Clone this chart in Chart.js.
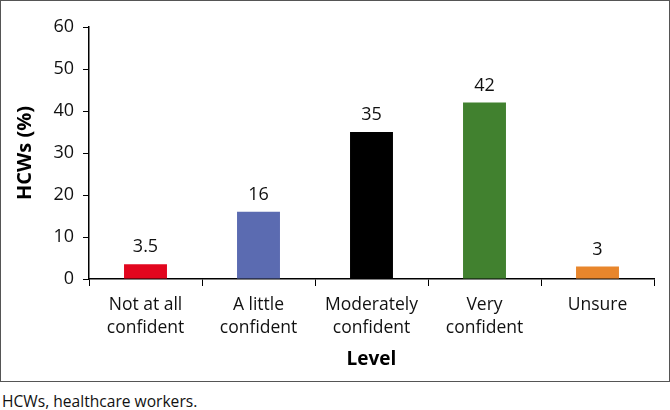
<!DOCTYPE html>
<html>
<head>
<meta charset="utf-8">
<script src="https://cdn.jsdelivr.net/npm/chart.js@4"></script>
<style>
  body { margin: 0; background: #fff; width: 670px; height: 410px; position: relative; overflow: hidden; }
  #frame { position: absolute; left: 0; top: 0; width: 668px; height: 380px; border: 1px solid #555; }
  #note { position: absolute; left: 2px; top: 390px; font-family: "Open Sans", sans-serif; font-size: 15.6px; color: #111; }
</style>
</head>
<body>
<div id="frame"><canvas id="c" width="668" height="380"></canvas></div>
<div id="note">HCWs, healthcare workers.</div>
<script>
// data
const levels = [["Not at all", "confident"], ["A little", "confident"], ["Moderately", "confident"], ["Very", "confident"], "Unsure"];
const percents = [3.5, 16, 35, 42, 3];
const barColors = ["#E2061E", "#5B6BB1", "#000000", "#41812F", "#E8862C"];

const FONT = "'Open Sans', sans-serif";

// value above each bar
const valueLabels = {
    id: 'valueLabels',
    afterDatasetsDraw(chart) {
        const ctx = chart.ctx;
        const meta = chart.getDatasetMeta(0);
        ctx.save();
        ctx.font = "18px " + FONT;
        ctx.fillStyle = "#111";
        ctx.textAlign = "center";
        ctx.textBaseline = "bottom";
        meta.data.forEach(function(bar, i) {
            ctx.fillText(String(percents[i]), bar.x, bar.y - 8);
        });
        ctx.restore();
    }
};

new Chart(document.getElementById('c'), {
    type: 'bar',
    data: {
        labels: levels,
        datasets: [{
            data: percents,
            backgroundColor: barColors,
            barPercentage: 0.38,
            categoryPercentage: 1
        }]
    },
    options: {
        responsive: false,
        animation: false,
        layout: { padding: { left: 12, top: 26, right: 15, bottom: 10 } },
        plugins: { legend: { display: false }, tooltip: { enabled: false } },
        scales: {
            x: {
                grid: { drawOnChartArea: false, drawTicks: true, tickLength: 7, color: '#000', offset: true },
                border: { display: true, color: '#000', width: 1.5 },
                ticks: { color: '#111', font: { family: FONT, size: 17.5, lineHeight: 1.35 }, padding: 7, maxRotation: 0, autoSkip: false },
                title: { display: true, text: 'Level', color: '#000', font: { family: FONT, size: 19, weight: 'bold' }, padding: { top: 4, bottom: 0 } },
                afterFit(scale) { scale.height = 92; }
            },
            y: {
                min: 0, max: 60,
                grid: { drawOnChartArea: false, drawTicks: true, tickLength: 6, color: '#000' },
                border: { display: true, color: '#000', width: 1.5 },
                ticks: { stepSize: 10, color: '#111', font: { family: FONT, size: 18 }, padding: 9 },
                title: { display: true, text: 'HCWs (%)', color: '#000', font: { family: FONT, size: 20, weight: 'bold' }, padding: 0 },
                afterFit(scale) { scale.width = 76; }
            }
        }
    },
    plugins: [valueLabels]
});
</script>
</body>
</html>
